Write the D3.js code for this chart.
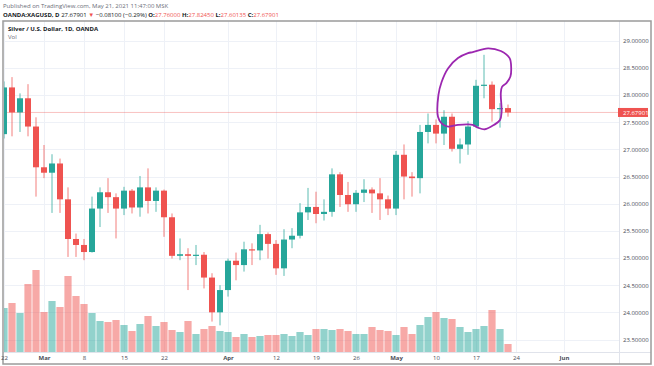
<!doctype html>
<html lang="en">
<head>
<meta charset="UTF-8">
<title>Silver / U.S. Dollar, 1D, OANDA</title>
<script src="https://cdn.jsdelivr.net/npm/d3@7"></script>
<style>
  body { margin: 0; background: #fff; }
  svg { display: block; font-family: "Open Sans", "Noto Sans", sans-serif; }
</style>
</head>
<body>
<script>
// daily bars, OANDA:XAGUSD (Good Friday Apr 2 has no bar)
var dates = ["Feb 22","Feb 23","Feb 24","Feb 25","Feb 26",
  "Mar 1","Mar 2","Mar 3","Mar 4","Mar 5","Mar 8","Mar 9","Mar 10","Mar 11","Mar 12",
  "Mar 15","Mar 16","Mar 17","Mar 18","Mar 19","Mar 22","Mar 23","Mar 24","Mar 25","Mar 26",
  "Mar 29","Mar 30","Mar 31","Apr 1","Apr 5","Apr 6","Apr 7","Apr 8","Apr 9",
  "Apr 12","Apr 13","Apr 14","Apr 15","Apr 16","Apr 19","Apr 20","Apr 21","Apr 22","Apr 23",
  "Apr 26","Apr 27","Apr 28","Apr 29","Apr 30","May 3","May 4","May 5","May 6","May 7",
  "May 10","May 11","May 12","May 13","May 14","May 17","May 18","May 19","May 20","May 21"];
var open  = [27.28,28.14,27.68,27.94,27.42, 26.67,26.57,26.74,26.08,25.35, 25.24,25.11,25.91,26.21,26.12,
  25.91,26.24,25.93,26.30,26.05, 26.24,25.75,25.04,25.07,25.04, 25.06,24.64,24.00,24.41, 24.95,24.87,25.16,25.14,25.44,
  25.26,24.81,25.34,25.41,25.84, 25.94,25.81,25.85,26.54,26.16, 25.99,26.20,26.26,26.19,26.08,
  25.91,26.90,26.50,26.47,27.32, 27.45,27.29,27.60,27.01,27.09, 27.42,28.17,28.19,27.74,27.76];
var high  = [28.25,28.33,28.03,28.20,27.59, 27.08,26.91,26.83,26.30,25.45, 25.35,26.13,26.30,26.47,26.19,
  26.31,26.27,26.51,26.65,26.30, 26.26,25.82,25.36,25.18,25.24, 25.11,24.72,24.50,24.99, 25.10,25.30,25.27,25.61,25.47,
  25.33,25.53,25.55,26.01,26.29, 26.22,26.08,26.65,26.58,26.40, 26.25,26.45,26.30,26.47,26.15,
  26.97,27.09,26.58,27.45,27.66, 27.55,27.72,27.66,27.20,27.52, 28.28,28.74,28.25,27.85,27.8245];
var low   = [27.20,27.24,27.32,27.24,26.13, 26.47,25.83,25.83,25.02,25.02, 24.96,25.10,25.57,25.83,25.36,
  25.79,25.82,25.76,25.82,25.85, 25.39,24.99,24.96,24.41,24.87, 24.44,23.83,23.76,24.29, 24.59,24.75,24.87,24.96,24.99,
  24.69,24.67,25.18,25.36,25.70, 25.64,25.69,25.76,25.94,25.85, 25.85,26.03,25.83,25.70,25.79,
  25.79,26.08,26.13,26.19,27.11, 27.11,27.08,26.96,26.74,26.90, 27.40,27.94,27.51,27.40,27.60135];
var close = [28.14,27.68,27.94,27.42,26.67, 26.57,26.74,26.08,25.35,25.24, 25.11,25.91,26.21,26.12,25.91,
  26.24,25.93,26.30,26.05,26.24, 25.75,25.04,25.07,25.04,25.06, 24.64,24.00,24.41,24.95, 24.87,25.16,25.14,25.44,25.26,
  24.81,25.34,25.41,25.84,25.94, 25.81,25.85,26.54,26.16,25.99, 26.20,26.26,26.19,26.08,25.91,
  26.90,26.50,26.47,27.32,27.45, 27.29,27.60,27.01,27.09,27.42, 28.17,28.19,27.74,27.76,27.67901];
// volume, thousands (read as relative bar heights)
var volume = [44,49,39,68,82, 40,51,45,76,56, 48,39,31,30,32,
  27,21,28,36,26, 30,22,20,31,18, 23,26,21,20, 15,18,15,16,17,
  17,18,16,20,17, 23,23,22,23,21, 18,18,25,22,21,
  17,25,18,27,35, 40,34,33,25,20, 23,26,42,23,8];

var priceTicks = [23.5,24,24.5,25,25.5,26,26.5,27,27.5,28,28.5,29];
var dateTickPos = [0,5,10,15,20,28,34,39,44,49,54,59,64,70];
var dateTickLabels = ["22","Mar","8","15","22","Apr","12","19","26","May","10","17","24","Jun"];
var lastPrice = 27.67901;

// hand drawn marker round the May 17-20 bars (bar position, price)
var markBar   = [58.6,60.5,62.1,63.2,63.4,63.3,62.8,62.25,62.1,62.2,62.0,61.25,60.1,59.25,58.6,58.0,56.75,55.5,54.7,54.25,54.3,54.7,55.5,56.75,58.0];
var markPrice = [28.79,28.86,28.81,28.68,28.49,28.34,28.22,28.15,28.03,27.69,27.54,27.45,27.37,27.40,27.45,27.46,27.45,27.42,27.48,27.60,28.00,28.24,28.49,28.68,28.77];

var W = 654, H = 366;
var up = "#26a69a", down = "#ef5350";

var svg = d3.select("body").append("svg").attr("width", W).attr("height", H);

// header
svg.append("text").attr("x", 3).attr("y", 8)
  .attr("font-size", "6px").attr("fill", "#6a6d78")
  .text("Published on TradingView.com, May 21, 2021 11:47:00 MSK");

var head = svg.append("text").attr("x", 3).attr("y", 17).attr("font-size", "6px").attr("fill", "#131722");
head.append("tspan").attr("font-weight", "bold").text("OANDA:XAGUSD, D ");
head.append("tspan").text("27.67901 ");
head.append("tspan").attr("fill", down).text("\u25BC ");
head.append("tspan").text("\u22120.08100 (\u22120.29%) ");
[["O:", "27.76000"], ["H:", "27.82450"], ["L:", "27.60135"], ["C:", "27.67901"]].forEach(function(p, i) {
  head.append("tspan").attr("font-weight", "bold").text((i ? " " : "") + p[0]);
  head.append("tspan").attr("fill", down).text(p[1]);
});

// pane geometry
var paneL = 3, paneR = 619, paneT = 21, paneB = 352, frameR = 651, frameB = 364;

var x = d3.scaleLinear().domain([-0.5, 76.5]).range([0, 616]);
var y = d3.scaleLinear().domain([23.5, 29]).range([339.5, 40.7]);
var yVol = d3.scaleLinear().domain([0, 100]).range([paneB, paneB - 100]);

svg.append("clipPath").attr("id", "pane")
  .append("rect").attr("x", paneL + 1).attr("y", paneT).attr("width", paneR - paneL - 1).attr("height", paneB - paneT);

// grid
var grid = svg.append("g").attr("clip-path", "url(#pane)");
grid.selectAll(".hg").data(priceTicks).enter().append("line")
  .attr("x1", paneL).attr("x2", paneR)
  .attr("y1", function(d) { return Math.round(y(d)) + 0.5; })
  .attr("y2", function(d) { return Math.round(y(d)) + 0.5; })
  .attr("stroke", "#eef1f7");
grid.selectAll(".vg").data(dateTickPos).enter().append("line")
  .attr("y1", paneT).attr("y2", paneB)
  .attr("x1", function(d) { return Math.round(x(d)) + 0.5; })
  .attr("x2", function(d) { return Math.round(x(d)) + 0.5; })
  .attr("stroke", "#eef1f7");

var pane = svg.append("g").attr("clip-path", "url(#pane)");
var idx = d3.range(dates.length);
function col(i) { return close[i] >= open[i] ? up : down; }

// volume
pane.selectAll(".vol").data(idx).enter().append("rect")
  .attr("x", function(i) { return x(i) - 3.6; })
  .attr("width", 7.2)
  .attr("y", function(i) { return yVol(volume[i]); })
  .attr("height", function(i) { return paneB - yVol(volume[i]); })
  .attr("fill", col).attr("fill-opacity", 0.5);

// last price line
pane.append("line")
  .attr("x1", paneL).attr("x2", paneR)
  .attr("y1", y(lastPrice)).attr("y2", y(lastPrice))
  .attr("stroke", down).attr("stroke-opacity", 0.35).attr("stroke-width", 1);

// candles
var candle = pane.selectAll(".candle").data(idx).enter().append("g");
candle.append("line")
  .attr("x1", function(i) { return x(i); }).attr("x2", function(i) { return x(i); })
  .attr("y1", function(i) { return y(high[i]); }).attr("y2", function(i) { return y(low[i]); })
  .attr("stroke", col).attr("stroke-opacity", 0.75).attr("stroke-width", 1);
candle.append("rect")
  .attr("x", function(i) { return x(i) - 3; })
  .attr("width", 6)
  .attr("y", function(i) { return y(Math.max(open[i], close[i])); })
  .attr("height", function(i) { return Math.max(1.2, Math.abs(y(open[i]) - y(close[i]))); })
  .attr("fill", col);

// annotation
var mark = d3.line().curve(d3.curveCatmullRomClosed)
  .x(function(d) { return x(d); })
  .y(function(d, k) { return y(markPrice[k]); });
pane.append("path").attr("d", mark(markBar))
  .attr("fill", "none").attr("stroke", "#9c27b0").attr("stroke-width", 1.8);

// legend inside pane
svg.append("text").attr("x", 8).attr("y", 31).attr("font-size", "6px").attr("font-weight", "bold")
  .attr("fill", "#131722").text("Silver / U.S. Dollar, 1D, OANDA");
svg.append("text").attr("x", 8).attr("y", 39).attr("font-size", "6px").attr("fill", "#6a6d78").text("Vol");

// separators and frame
svg.append("line").attr("x1", paneR + 0.5).attr("x2", paneR + 0.5).attr("y1", paneT).attr("y2", frameB)
  .attr("stroke", "#e0e3eb");
svg.append("line").attr("x1", paneL).attr("x2", frameR).attr("y1", paneB + 0.5).attr("y2", paneB + 0.5)
  .attr("stroke", "#e0e3eb");
svg.append("rect").attr("x", paneL).attr("y", paneT).attr("width", frameR - paneL).attr("height", frameB - paneT)
  .attr("fill", "none").attr("stroke", "#9b9b9b").attr("stroke-width", 1.5);

// price axis
var yAxis = d3.axisRight(y).tickValues(priceTicks).tickSize(0).tickPadding(4)
  .tickFormat(d3.format(".5f"));
var ya = svg.append("g").attr("transform", "translate(" + paneR + ",0)").call(yAxis);
ya.select(".domain").remove();
ya.selectAll("text").attr("font-size", "6px").attr("fill", "#4a4d57").attr("font-family", "Open Sans, sans-serif");

// last price badge
var badge = svg.append("g").attr("transform", "translate(" + (paneR - 1) + "," + y(lastPrice) + ")");
badge.append("rect").attr("x", 0).attr("y", -4.5).attr("width", 30).attr("height", 9).attr("fill", down);
badge.append("text").attr("x", 5).attr("y", 2.2).attr("font-size", "6px").attr("fill", "#fff")
  .text(d3.format(".5f")(lastPrice));

// time axis
var xAxis = d3.axisBottom(x).tickValues(dateTickPos).tickSize(0).tickPadding(4)
  .tickFormat(function(d, k) { return dateTickLabels[k]; });
var xa = svg.append("g").attr("transform", "translate(0," + paneB + ")").call(xAxis);
xa.select(".domain").remove();
xa.selectAll("text").attr("font-size", "6px").attr("fill", "#4a4d57").attr("font-family", "Open Sans, sans-serif")
  .attr("font-weight", function(d, k) { return isNaN(+dateTickLabels[k]) ? "bold" : null; });
</script>
</body>
</html>
